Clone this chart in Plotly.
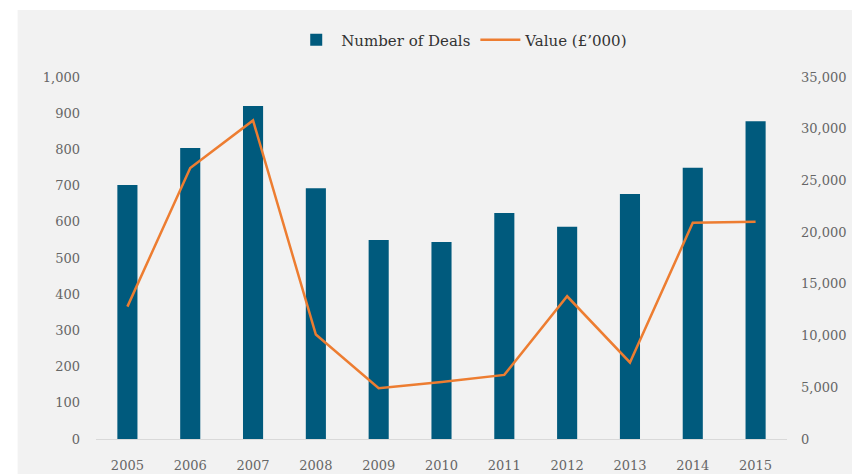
import plotly.graph_objects as go

years = ["2005", "2006", "2007", "2008", "2009", "2010", "2011", "2012", "2013", "2014", "2015"]
deals = [702, 804, 920, 693, 550, 544, 624, 586, 677, 749, 878]
value_k = [12800, 26200, 30800, 10100, 4900, 5500, 6200, 13800, 7400, 20900, 21000]

left_ticks = list(range(0, 1001, 100))
right_ticks = list(range(0, 35001, 5000))

W, H = 852, 474
L, R, T, B = 95.5, 64.5, 77, 35
pw = W - L - R
ph = H - T - B

font_family = "DejaVu Serif"
tick_color = "#666666"

fig = go.Figure()
fig.add_trace(go.Bar(
    x=years, y=deals, name="Number of Deals",
    marker=dict(color="#005A7D", line=dict(width=0)),
    width=0.32, yaxis="y",
))
fig.add_trace(go.Scatter(
    x=years, y=value_k, name="Value (£’000)", mode="lines",
    line=dict(color="#ED7D31", width=2.5),
    yaxis="y2",
))

# grey panel behind the chart
px_x0, px_y0 = 17, 10
fig.add_shape(
    type="rect", xref="paper", yref="paper", layer="below",
    x0=(px_x0 - L) / pw, x1=1.2,
    y0=-0.2, y1=(H - B - px_y0) / ph,
    fillcolor="#F2F2F2", line=dict(width=0),
)

fig.update_layout(
    width=W, height=H,
    margin=dict(l=L, r=R, t=T, b=B, pad=0),
    paper_bgcolor="white",
    plot_bgcolor="rgba(0,0,0,0)",
    font=dict(family=font_family, size=13, color=tick_color),
    bargap=0.68,
    showlegend=True,
    legend=dict(
        orientation="h", x=0.53, y=(H - B - 40) / ph,
        xanchor="center", yanchor="middle",
        bgcolor="rgba(0,0,0,0)",
        font=dict(family=font_family, size=15, color="#333333"),
        itemwidth=40,
    ),
    xaxis=dict(
        type="category", range=[-0.5, 10.5], automargin=False,
        showgrid=False, zeroline=False,
        showline=True, linecolor="#D9D9D9", linewidth=1,
        ticks="", tickfont=dict(size=13, color=tick_color),
        ticklabelstandoff=14,
    ),
    yaxis=dict(
        range=[0, 1000], tickvals=left_ticks, automargin=False,
        ticktext=[f"{v:,}" for v in left_ticks],
        showgrid=False, zeroline=False, showline=False,
        ticks="", tickfont=dict(size=13, color=tick_color),
        ticklabelstandoff=15,
    ),
    yaxis2=dict(
        range=[0, 35000], tickvals=right_ticks, automargin=False,
        ticktext=[f"{v:,}" for v in right_ticks],
        overlaying="y", side="right",
        showgrid=False, zeroline=False, showline=False,
        ticks="", tickfont=dict(size=13, color=tick_color),
        ticklabelstandoff=13,
    ),
)

fig.write_html("out.html")
